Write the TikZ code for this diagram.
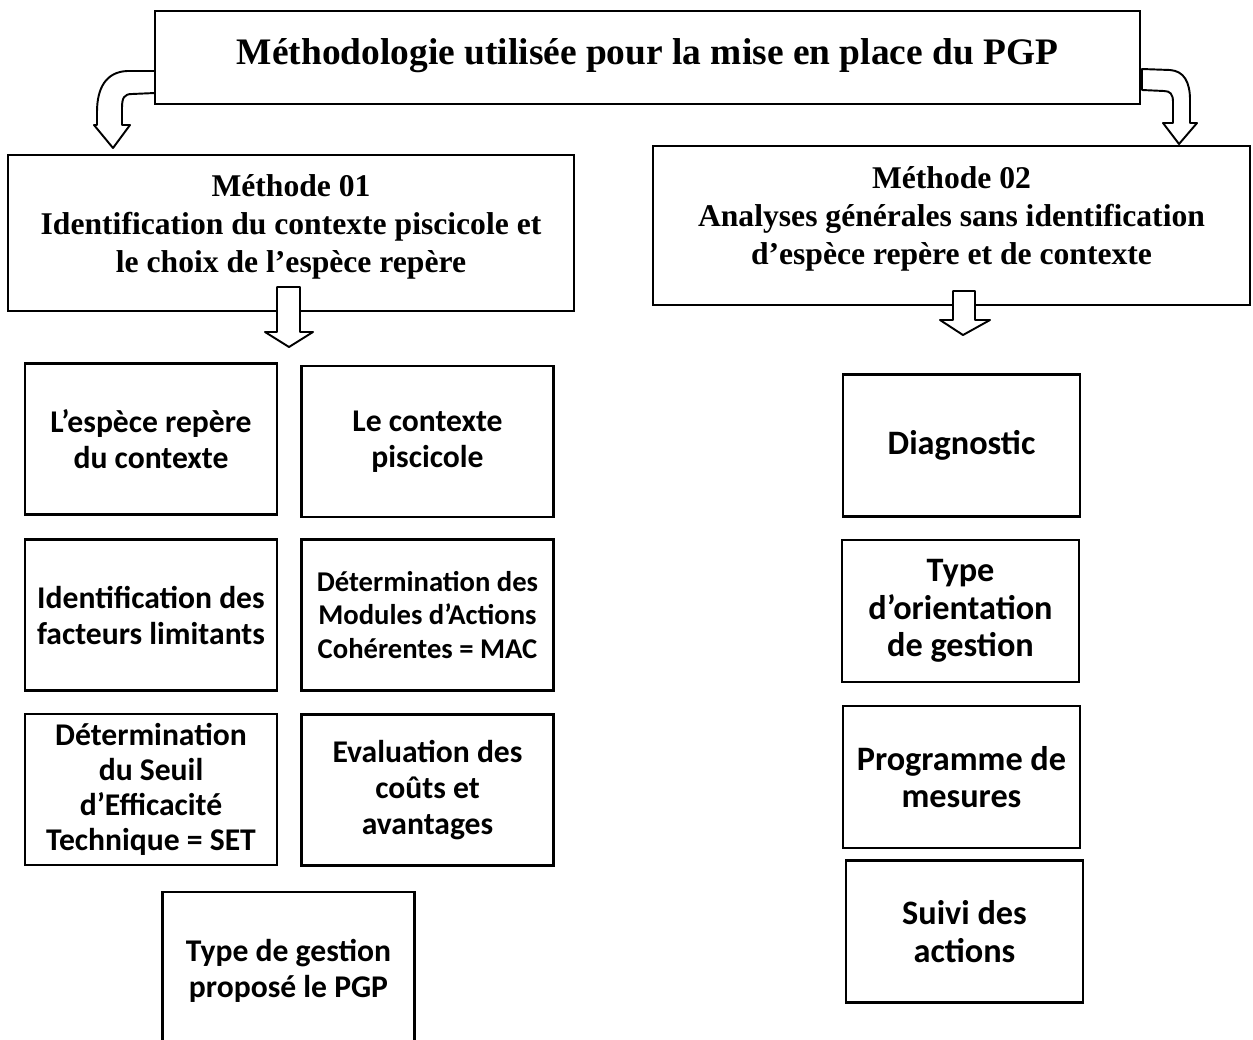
\documentclass[tikz,border=0pt]{standalone}
\usepackage{fontspec}
\setmainfont{Liberation Serif}
\newfontfamily\calibri{Carlito}

\tikzset{
  titlebox/.style={draw, line width=1.5pt, align=center,
    font=\bfseries\fontsize{21.3}{25}\selectfont},
  methbox/.style={draw, line width=1.5pt, align=center, text depth=11pt,
    font=\bfseries\fontsize{18}{21.6}\selectfont},
  stepbox/.style={draw, line width=1.5pt, align=center,
    minimum width=5.04cm, minimum height=3.02cm,
    font=\calibri\bfseries\fontsize{18}{20.5}\selectfont},
  rightbox/.style={draw, line width=1.5pt, align=center,
    minimum width=4.74cm, minimum height=2.84cm,
    font=\calibri\bfseries\fontsize{19.5}{21.5}\selectfont},
  blockarrow/.style={draw, fill=white, line width=1.1pt, line join=round}
}

\begin{document}
\begin{tikzpicture}[x=0.02cm, y=-0.02cm]

  \path[use as bounding box, clip] (0,0) rectangle (1253,1039);

  % title and the two methods
  \node[titlebox, minimum width=19.7cm, minimum height=1.86cm, text depth=7pt] (title) at (647.5,57.5)
    {Méthodologie utilisée pour la mise en place du PGP};
  \node[methbox, minimum width=11.32cm, minimum height=3.12cm] (m1) at (291,233)
    {Méthode 01\\Identification du contexte piscicole et\\le choix de l’espèce repère};
  \node[methbox, minimum width=11.94cm, minimum height=3.18cm] (m2) at (951.5,225.5)
    {Méthode 02\\Analyses générales sans identification\\d’espèce repère et de contexte};

  % methode 01
  \node[stepbox] (espece)   at (151,439)   {L’espèce repère\\du contexte};
  \node[stepbox] (contexte) at (427.5,441.5) {Le contexte\\piscicole};
  \node[stepbox] (facteurs) at (151,615)   {Identification des\\facteurs limitants};
  \node[stepbox, font=\calibri\bfseries\fontsize{16.3}{18.8}\selectfont] (mac) at (427.5,615)
    {Détermination des\\Modules d’Actions\\Cohérentes = MAC};
  \node[stepbox, font=\calibri\bfseries\fontsize{18}{19.8}\selectfont] (set) at (151,789.5)
    {Détermination\\du Seuil\\d’Efficacité\\Technique = SET};
  \node[stepbox] (couts)    at (427.5,790) {Evaluation des\\coûts et\\avantages};
  \node[stepbox, minimum height=3.16cm] (gestion) at (288.5,971)
    {Type de gestion\\proposé le PGP};

  % methode 02
  \node[rightbox] (diag)    at (961.5,445.5) {Diagnostic};
  \node[rightbox] (orient)  at (960.5,611)   {Type\\d’orientation\\de gestion};
  \node[rightbox] (mesures) at (961.5,777)   {Programme de\\mesures};
  \node[rightbox] (suivi)   at (964.5,931.5) {Suivi des\\actions};

  % block arrows
  \draw[blockarrow] (155,71) -- (127,71) .. controls (106,72) and (97,88) .. (97,112)
    -- (97,125) -- (94,125) -- (113,148) -- (130,125) -- (122,125) -- (122,108)
    .. controls (122,98) and (124,94) .. (132,94) -- (155,93) -- cycle;
  \draw[blockarrow] (1142,69) -- (1170,70) .. controls (1184,71) and (1190,82) .. (1190,100)
    -- (1190,123) -- (1197,123) -- (1179,144) -- (1163,123) -- (1173,123) -- (1173,102)
    .. controls (1173,94) and (1170,91) .. (1164,91) -- (1142,90) -- cycle;
  \draw[blockarrow] (277,287) -- (300,287) -- (300,332) -- (313,332) -- (289,347)
    -- (265,332) -- (277,332) -- cycle;
  \draw[blockarrow] (953,291) -- (975,291) -- (975,320) -- (990,320) -- (963,335)
    -- (940,320) -- (953,320) -- cycle;

\end{tikzpicture}
\end{document}
